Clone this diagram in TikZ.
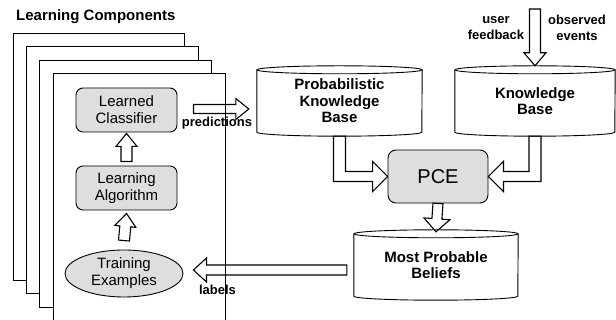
\documentclass[tikz,border=0pt]{standalone}
\usepackage{fontspec}
\setmainfont{Liberation Sans}
\usepackage{xcolor}
\usetikzlibrary{calc, positioning, shapes.geometric}
\definecolor{boxgray}{gray}{0.87}
\tikzset{%
	sheet/.style={
		draw,
		fill=white,
		line width=0.8pt
	},
	procbox/.style={
		draw,
		fill=boxgray,
		rounded corners=7pt,
		minimum width=101pt,
		minimum height=44pt,
		align=center,
		line width=0.9pt,
		font=\fontsize{15}{17}\selectfont
	},
	dbnode/.style={
		inner sep=0pt,
		minimum height=70pt,
		align=center,
		font=\bfseries\fontsize{15}{16.5}\selectfont
	},
	dbline/.style={
		line width=0.9pt
	},
	arrowline/.style={
		draw,
		line width=1.1pt,
		line join=miter
	},
	smalllabel/.style={
		align=center,
		inner sep=0pt,
		font=\bfseries\fontsize{13}{16}\selectfont
	},
}

\begin{document}
\begin{tikzpicture}[x=1pt,y=1pt]
	\useasboundingbox (0,0) rectangle (616,320);
	% Define the database outline drawn round a node
	\newcommand{\dbdraw}[2]{%
		\draw[dbline] ($(#1.north west)+(0,-4)$) -- ($(#1.south west)+(0,4)$)
			arc[start angle=180, end angle=360, x radius=#2, y radius=4]
			-- ($(#1.north east)+(0,-4)$);
		\draw[dbline] ($(#1.north)+(0,-4)$) ellipse[x radius=#2, y radius=4];
	}
	% Define a straight block arrow: base, tip, shaft half width, head half width
	\newcommand{\blockarrow}[4]{%
		\coordinate (ba) at #1;
		\coordinate (bt) at #2;
		\coordinate (bh) at ($(bt)!13pt!(ba)$);
		\draw[arrowline] ($(ba)!#3!90:(bt)$) -- ($(bh)!#3!90:(bt)$) -- ($(bh)!#4!90:(bt)$) -- (bt)
			-- ($(bh)!#4!-90:(bt)$) -- ($(bh)!#3!-90:(bt)$) -- ($(ba)!#3!-90:(bt)$) -- cycle;
	}
	
	% Stack of sheets
	\foreach \k in {0,...,3} {
		\draw[sheet] ({13+13.3*\k},{40-13.7*\k}) rectangle ({184.5+13.5*\k},{287-13.5*\k});
	}
	\node[anchor=west, inner sep=0pt, font=\bfseries\fontsize{15}{17}\selectfont] (title) at (16,303) {Learning Components};
	
	% Learning components
	\node[procbox] (cls) at (126.5,210) {Learned\\Classifier};
	\node[procbox] (alg) at (126.5,132) {Learning\\Algorithm};
	\node[ellipse, draw, fill=boxgray, line width=0.9pt, minimum width=118pt, minimum height=47pt, inner sep=0pt, align=center, font=\fontsize{15}{17}\selectfont] (train) at (124,46.5) {Training\\Examples};
	
	% Knowledge bases
	\node[dbnode, minimum width=165pt] (pkb) at (339.5,219) {Probabilistic\\Knowledge\\Base};
	\dbdraw{pkb}{82.5}
	\node[dbnode, minimum width=160pt] (kb) at (535,219) {Knowledge\\Base};
	\dbdraw{kb}{80}
	\node[dbnode, minimum width=164pt] (mpb) at (436,55) {Most Probable\\Beliefs};
	\dbdraw{mpb}{82}
	\node[procbox, minimum width=100pt, minimum height=53pt, rounded corners=8pt, font=\fontsize{20}{22}\selectfont] (pce) at (438,143.5) {PCE};
	
	% Block arrows
	\blockarrow{($(alg.north)+(0,4)$)}{($(cls.south)+(0,-1)$)}{5.5pt}{10.5pt}
	\blockarrow{($(train.north)+(0,9)$)}{($(alg.south)+(0,-3)$)}{5.5pt}{10.5pt}
	\blockarrow{($(cls.east)+(16,1)$)}{($(pkb.west)+(-8,-8)$)}{4.5pt}{10.5pt}
	\blockarrow{($(mpb.west)+(-7,-5)$)}{($(train.east)+(10,3.5)$)}{5pt}{12pt}
	\blockarrow{(pce.south)}{($(mpb.north)+(0,-2)$)}{5pt}{13pt}
	\coordinate (feed) at (535,311);
	\blockarrow{(feed)}{(kb.north)}{5.5pt}{11pt}
	\draw[arrowline] let \p1=(pkb.south), \p2=(pce.west) in
		(\x1-6pt,\y1) -- (\x1-6pt,\y2-5pt) -- (\x2-15pt,\y2-5pt) -- (\x2-15pt,\y2-15pt) -- (\x2,\y2)
		-- (\x2-15pt,\y2+15pt) -- (\x2-15pt,\y2+5pt) -- (\x1+6pt,\y2+5pt) -- (\x1+6pt,\y1) -- cycle;
	\draw[arrowline] let \p1=(kb.south), \p2=(pce.east) in
		(\x1+6pt,\y1) -- (\x1+6pt,\y2-5pt) -- (\x2+15pt,\y2-5pt) -- (\x2+15pt,\y2-15pt) -- (\x2,\y2)
		-- (\x2+15pt,\y2+15pt) -- (\x2+15pt,\y2+5pt) -- (\x1-6pt,\y2+5pt) -- (\x1-6pt,\y1) -- cycle;
	
	% Arrow labels
	\node[smalllabel] (predlbl) at (217,197) {predictions};
	\node[smalllabel] (lbl) at (217.5,30) {labels};
	\node[smalllabel] (userfb) at (496,292) {user\\feedback};
	\node[smalllabel] (obsev) at (577,292) {observed\\events};
\end{tikzpicture}
\end{document}
